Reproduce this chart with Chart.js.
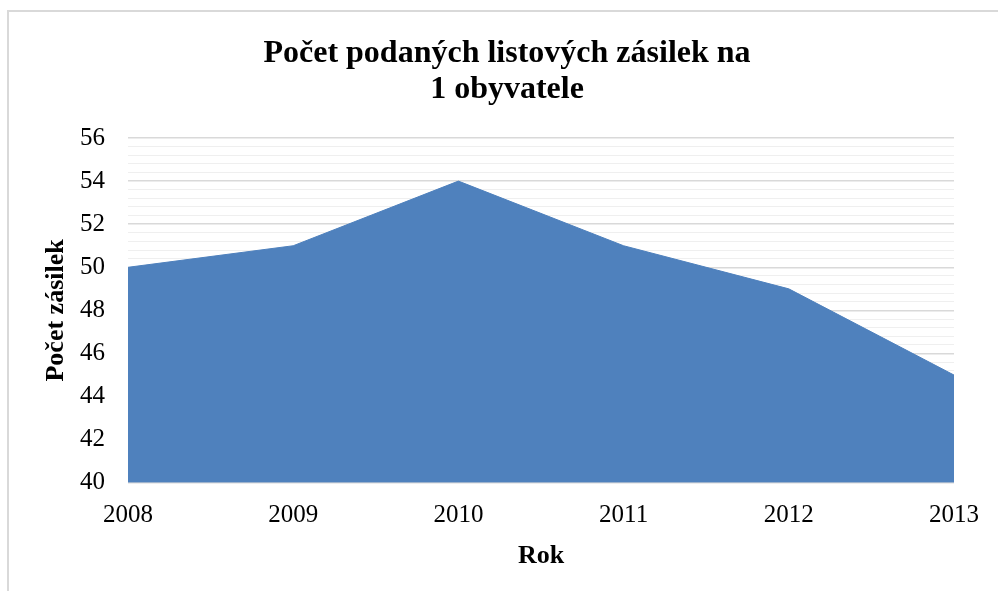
<!DOCTYPE html>
<html>
<head>
<meta charset="utf-8">
<script src="https://cdn.jsdelivr.net/npm/chart.js@4.4.0/dist/chart.umd.min.js"></script>
<style>
  html, body { margin: 0; padding: 0; background: #fff; overflow: hidden; }
  #wrap { position: relative; width: 998px; height: 591px; }
  #frame { position: absolute; left: 7px; top: 10px; width: 1100px; height: 700px;
           border: 2px solid #d9d9d9; box-sizing: border-box; }
  canvas { position: absolute; left: 0; top: 0; }
</style>
</head>
<body>
<div id="wrap">
  <div id="frame"></div>
  <canvas id="graf" width="998" height="591"></canvas>
</div>
<script>
// Data
var roky = ["2008", "2009", "2010", "2011", "2012", "2013"];
var zasilky = [50, 51, 54, 51, 49, 45];
var yMin = 40, yMax = 56, hlavniKrok = 2, vedlejsiKrok = 0.4;

var pismo = "'Liberation Serif', 'Times New Roman', serif";

function jeHlavni(v) {
    return Math.abs(v / hlavniKrok - Math.round(v / hlavniKrok)) < 1e-6;
}

new Chart(document.getElementById("graf"), {
    type: "line",
    data: {
        labels: roky,
        datasets: [{
            label: "Počet zásilek",
            data: zasilky,
            backgroundColor: "#4f81bd",
            borderColor: "#4f81bd",
            borderWidth: 1,
            fill: "start",
            tension: 0,
            pointRadius: 0
        }]
    },
    options: {
        responsive: false,
        animation: false,
        layout: { padding: { left: 60, right: 44, top: 0, bottom: 19 } },
        plugins: {
            legend: { display: false },
            tooltip: { enabled: false },
            title: {
                display: true,
                text: ["Počet podaných listových zásilek na", "1 obyvatele"],
                color: "#000",
                font: { family: pismo, size: 32, weight: "bold", lineHeight: 1.125 },
                padding: { top: 36, bottom: 30 }
            }
        },
        scales: {
            x: {
                offset: false,
                grid: { display: false },
                border: { display: false },
                ticks: { color: "#000", font: { family: pismo, size: 25 }, padding: 10, maxRotation: 0 },
                title: {
                    display: true, text: "Rok", color: "#000",
                    font: { family: pismo, size: 26, weight: "bold" }, padding: { top: 0, bottom: 0 }
                }
            },
            y: {
                min: yMin,
                max: yMax,
                border: { display: false },
                afterFit: function(scale) { scale.width = 68; },
                grid: {
                    drawTicks: false,
                    color: function(ctx) { return jeHlavni(ctx.tick.value) ? "#d9d9d9" : "#efefef"; },
                    lineWidth: function(ctx) { return jeHlavni(ctx.tick.value) ? 1.5 : 1; }
                },
                ticks: {
                    stepSize: vedlejsiKrok,
                    autoSkip: false,
                    padding: 23,
                    color: "#000",
                    font: { family: pismo, size: 25 },
                    callback: function(v) { return jeHlavni(v) ? Math.round(v) : ""; }
                },
                title: {
                    display: true, text: "Počet zásilek", color: "#000",
                    font: { family: pismo, size: 26, weight: "bold" }, padding: { top: -19, bottom: 0 }
                }
            }
        }
    }
});
</script>
</body>
</html>
